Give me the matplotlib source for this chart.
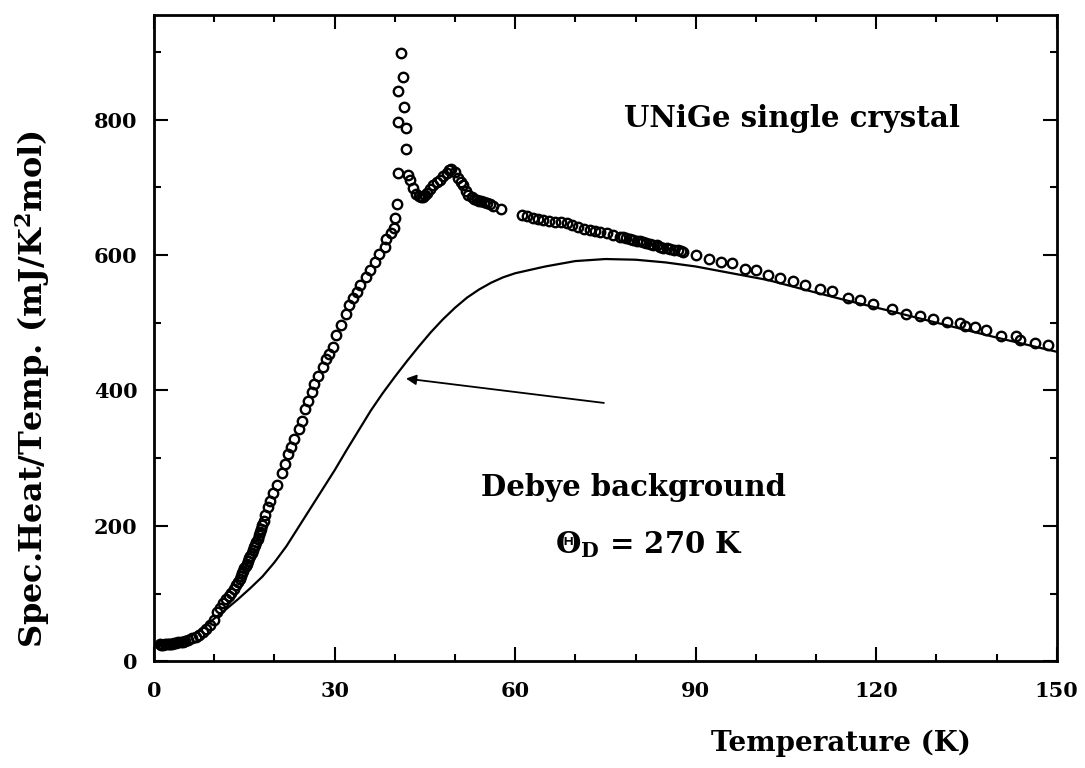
import numpy as np
import matplotlib
matplotlib.use("Agg")
import matplotlib.pyplot as plt
from matplotlib.ticker import MultipleLocator

temp = [1.0, 1.2, 1.5, 1.8, 2.1, 2.4, 2.7, 3.0, 3.3, 3.6, 4.0, 4.4, 4.8, 5.2,
        5.7, 6.3, 6.9, 7.5, 8.1, 8.7, 9.3, 9.9, 10.5, 11.0, 11.5, 12.0,
        12.4, 12.8, 13.2, 13.6, 13.9, 14.2, 14.4, 14.6, 14.8, 15.0, 15.2,
        15.4, 15.6, 15.8, 16.0, 16.2, 16.4, 16.6, 16.8, 17.0, 17.2, 17.4,
        17.6, 17.8, 18.0, 18.2, 18.5, 18.9, 19.3, 19.8, 20.4, 21.2,
        21.8, 22.3, 22.7, 23.3, 24.0, 24.5, 25.0, 25.6, 26.2, 26.6, 27.3,
        28.0, 28.6, 29.0, 29.7, 30.3, 31.1, 31.9, 32.4, 33.0, 33.7, 34.3,
        35.2, 35.8, 36.7, 37.3, 38.3, 38.6, 39.3, 39.8, 40.0, 40.4, 40.5,
        40.5, 40.6, 41.0, 41.3, 41.5, 41.8, 41.9, 42.2, 42.6, 43.1, 43.6,
        44.0, 44.4, 44.7, 45.1, 45.4, 45.9, 46.4, 47.0, 47.5, 48.0, 48.6,
        49.0, 49.4, 50.0, 50.5, 51.0, 51.4, 51.8, 52.2, 52.8, 53.2, 53.6,
        54.0, 54.4, 54.9, 55.3, 55.8, 56.4, 57.6, 61.1, 62.0, 63.0, 63.8,
        64.7, 65.6, 66.6, 67.6, 68.6, 69.5, 70.5, 71.4, 72.4, 73.2, 74.1,
        75.2, 76.3, 77.4, 78.0, 78.5, 79.1, 79.6, 80.2, 80.7, 81.3, 81.8,
        82.4, 82.9, 83.5, 84.0, 84.6, 85.2, 85.8, 86.4, 87.0, 87.6, 87.9,
        90.1, 92.2, 94.2, 96.1, 98.2, 100.0, 102.0, 104.0, 106.2, 108.1,
        110.6, 112.6, 115.3, 117.3, 119.5, 122.7, 125.0, 127.2, 129.5,
        131.7, 133.9, 134.7, 136.4, 138.3, 140.8, 143.3, 143.9, 146.3,
        148.5]
c_over_t = [25, 24, 24, 25, 25, 26, 26, 26, 27, 27, 28, 28, 29, 30,
            32, 34, 36, 39, 43, 48, 54, 61, 72, 79, 86, 92,
            97, 101, 106, 113, 117, 122, 126, 130, 134, 137, 141,
            144, 148, 152, 156, 160, 164, 168, 172, 176, 181, 186,
            191, 196, 201, 207, 216, 228, 237, 249, 261, 278,
            291, 306, 316, 328, 343, 355, 372, 385, 397, 409, 422,
            434, 447, 454, 464, 482, 496, 513, 526, 536, 545, 555,
            568, 578, 590, 601, 612, 624, 632, 640, 655, 676, 721,
            797, 842, 899, 863, 819, 787, 757, 718, 711, 699, 690,
            687, 686, 685, 688, 691, 697, 704, 708, 711, 716, 721,
            725, 727, 722, 714, 708, 704, 695, 689, 685, 683, 681,
            680, 679, 678, 677, 675, 673, 668, 659, 657, 654, 653,
            652, 650, 649, 648, 647, 644, 642, 639, 637, 635, 634,
            632, 630, 627, 626, 625, 623, 622, 621, 620, 619, 617,
            616, 615, 614, 612, 611, 610, 609, 608, 607, 606, 605,
            600, 594, 589, 588, 580, 578, 571, 566, 561, 555,
            550, 547, 537, 533, 527, 520, 513, 510, 506,
            501, 499, 495, 494, 489, 481, 481, 474, 470,
            467]

# Debye background curve, theta_D = 270 K
debye_t = [1.5, 5, 8, 10, 12, 14, 16, 18, 20, 22, 24, 26, 28, 30, 32, 34,
           36, 38, 40, 42, 44, 46, 48, 50, 52, 54, 56, 58, 60, 65, 70, 75,
           80, 85, 90, 96, 102, 108, 115, 122, 130, 140, 150]
debye_c = [24, 32, 48, 63, 77, 92, 108, 125, 146, 170, 198, 226, 254, 282,
           312, 341, 370, 396, 420, 443, 465, 486, 505, 522, 537, 549, 559,
           567, 573, 583, 591, 594, 593, 589, 583, 573, 563, 549, 533, 518,
           500, 478, 457]

plt.rcParams['font.family'] = 'DejaVu Serif'
plt.rcParams['font.weight'] = 'bold'
plt.rcParams['mathtext.fontset'] = 'dejavuserif'
plt.rcParams['mathtext.default'] = 'bf'

fig = plt.figure(figsize=(10.85, 7.68), dpi=100)
ax = fig.add_axes([0.142, 0.139, 0.832, 0.842])

ax.plot(temp, c_over_t, 'o', mfc='none', mec='black', ms=6.8, mew=1.7)
ax.plot(debye_t, debye_c, '-', color='black', lw=1.6)

ax.set_xlim(0, 150)
ax.set_ylim(0, 955)
ax.xaxis.set_major_locator(MultipleLocator(30))
ax.xaxis.set_minor_locator(MultipleLocator(10))
ax.yaxis.set_major_locator(MultipleLocator(200))
ax.yaxis.set_minor_locator(MultipleLocator(100))
ax.tick_params(which='both', direction='in', top=True, right=True,
               labelsize=15, width=1.5)
ax.tick_params(which='major', length=10)
ax.tick_params(axis='x', which='major', pad=14)
ax.tick_params(axis='y', which='major', pad=12)
ax.tick_params(which='minor', length=5)
for s in ax.spines.values():
    s.set_linewidth(2)

ax.text(106, 801, 'UNiGe single crystal', fontsize=21, ha='center',
        va='center')
ax.text(79.7, 257, 'Debye background', fontsize=21, ha='center',
        va='center')
ax.text(82.2, 172, r'$\Theta_D$ = 270 K', fontsize=21, ha='center',
        va='center')
ax.annotate('', xy=(41.4, 418), xytext=(75.2, 381),
            arrowprops=dict(arrowstyle='-|>', color='black', lw=1.3,
                            mutation_scale=15))

fig.text(0.775, 0.032, 'Temperature (K)', fontsize=20, ha='center',
         va='center')
fig.text(0.03, 0.493, r'Spec.Heat/Temp. (mJ/K$^2$mol)', fontsize=23,
         ha='center', va='center', rotation=90)

fig.savefig('out.png', dpi=100)
